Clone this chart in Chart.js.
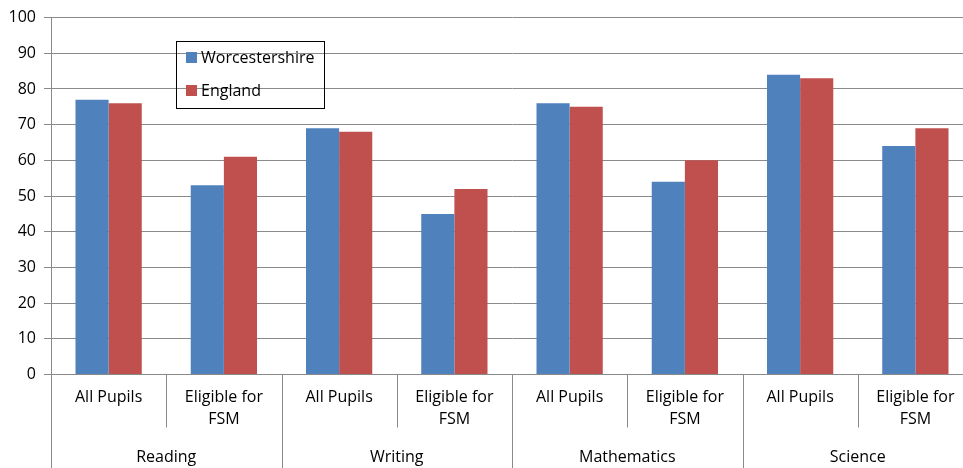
<!DOCTYPE html>
<html>
<head>
<meta charset="utf-8">
<script src="https://cdn.jsdelivr.net/npm/chart.js@4"></script>
<style>
  html, body { margin: 0; padding: 0; background: #fff; overflow: hidden; }
  #wrap { width: 973px; height: 468px; }
</style>
</head>
<body>
<div id="wrap"><canvas id="myChart" width="973" height="468"></canvas></div>
<script>
const subjects = ["Reading", "Writing", "Mathematics", "Science"];
const groups = [["All Pupils"], ["Eligible for", "FSM"]];
const labels = [];
subjects.forEach(() => groups.forEach(g => labels.push(g)));

const worcestershire = [77, 53, 69, 45, 76, 54, 84, 64];
const england = [76, 61, 68, 52, 75, 60, 83, 69];

const FONT = "'Open Sans', sans-serif";
const GRID = "#8a8a8a";

// draws the two-level category axis and the boxed legend
const extras = {
  id: "extras",
  afterDraw(chart) {
    const c = chart.ctx;
    const x = chart.scales.x;
    const area = chart.chartArea;
    const w = (x.right - x.left) / labels.length;
    c.save();
    c.strokeStyle = GRID;
    c.lineWidth = 1;
    for (let i = 0; i <= labels.length; i++) {
      const px = Math.round(x.left + i * w) + 0.5;
      c.beginPath();
      c.moveTo(px, area.bottom);
      c.lineTo(px, i % 2 === 0 ? chart.height : area.bottom + 53);
      c.stroke();
    }
    c.fillStyle = "#000";
    c.font = "16px " + FONT;
    c.textAlign = "center";
    c.textBaseline = "middle";
    subjects.forEach((s, i) => {
      const cx = (x.getPixelForValue(i * 2) + x.getPixelForValue(i * 2 + 1)) / 2;
      c.fillText(s, cx, 457);
    });

    // legend
    c.strokeStyle = "#000";
    c.strokeRect(176.5, 41.5, 148, 67);
    c.textAlign = "left";
    chart.data.datasets.forEach((ds, i) => {
      const y = 57 + i * 33;
      c.fillStyle = ds.backgroundColor;
      c.fillRect(186, y - 5, 11, 11);
      c.fillStyle = "#000";
      c.fillText(ds.label, 201, y + 1);
    });
    c.restore();
  }
};

const ctx = document.getElementById("myChart").getContext("2d");
const myChart = new Chart(ctx, {
  type: "bar",
  data: {
    labels: labels,
    datasets: [
      { label: "Worcestershire", data: worcestershire, backgroundColor: "#4F81BD" },
      { label: "England", data: england, backgroundColor: "#C0504D" }
    ]
  },
  options: {
    responsive: false,
    animation: false,
    layout: { padding: { top: 17.5, left: 0, right: 0, bottom: 0 } },
    datasets: { bar: { categoryPercentage: 0.575, barPercentage: 1 } },
    plugins: { legend: { display: false }, tooltip: { enabled: false } },
    scales: {
      x: {
        grid: { display: false, drawTicks: false },
        border: { color: GRID },
        ticks: { color: "#000", font: { family: FONT, size: 16, lineHeight: 1.375 }, padding: 12, maxRotation: 0, autoSkip: false },
        afterFit(scale) { scale.height = 93.5; }
      },
      y: {
        min: 0,
        max: 100,
        ticks: { stepSize: 10, color: "#000", font: { family: FONT, size: 16 }, padding: 8 },
        grid: { color: GRID, tickLength: 7 },
        border: { color: GRID },
        afterFit(scale) { scale.width = 51; }
      }
    }
  },
  plugins: [extras]
});
</script>
</body>
</html>
